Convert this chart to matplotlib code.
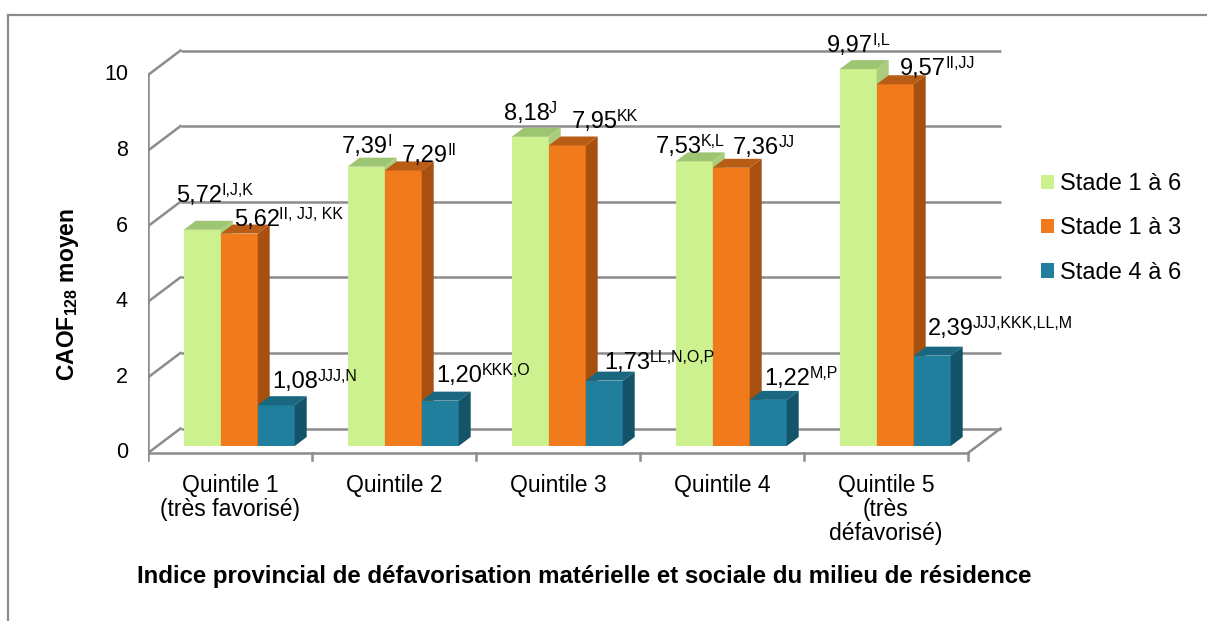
import matplotlib
matplotlib.use("Agg")
import matplotlib.pyplot as plt
from matplotlib.patches import Polygon, Patch

plt.rcParams['font.family'] = ['Liberation Sans', 'DejaVu Sans']
plt.rcParams['mathtext.fontset'] = 'custom'
plt.rcParams['mathtext.rm'] = 'Liberation Sans'
plt.rcParams['mathtext.bf'] = 'Liberation Sans:bold'

# data
quintiles = ['Quintile 1\n(très favorisé)', 'Quintile 2', 'Quintile 3',
             'Quintile 4', 'Quintile 5\n(très\ndéfavorisé)']
series = ['Stade 1 à 6', 'Stade 1 à 3', 'Stade 4 à 6']
stade_1_6 = [5.72, 7.39, 8.18, 7.53, 9.97]
stade_1_3 = [5.62, 7.29, 7.95, 7.36, 9.57]
stade_4_6 = [1.08, 1.20, 1.73, 1.22, 2.39]
sup_1_6 = ['I,J,K', 'I', 'J', 'K,L', 'I,L']
sup_1_3 = ['II, JJ, KK', 'II', 'KK', 'JJ', 'II,JJ']
sup_4_6 = ['JJJ,N', 'KKK,O', 'LL,N,O,P', 'M,P', 'JJJ,KKK,LL,M']
yticks = [0, 2, 4, 6, 8, 10]

# colours: front, top, side
faces = [('#CDF18E', '#9EC572', '#A9CD7A'),
         ('#F07A1C', '#B95D16', '#A8500F'),
         ('#1F7F9C', '#196780', '#145468')]
grid_col = '#8C8C8C'

# label nudges in pixels (x from bar left, y above bar top)
lab_dx = [[-8, -6, -8, -20, -13],
          [13, 17, 23, 20, 23],
          [15, 15, 19, 15, 14]]
lab_dy = [[28, 14, 17, 8, 17],
          [8, 8, 17, 14, 9],
          [17, 19, 12, 15, 21]]

W, H = 1207, 621
fig = plt.figure(figsize=(W / 100, H / 100), dpi=100)
px_cat, px_val = 164.0, 37.8
ax = fig.add_axes([148 / W, (H - 470) / H, 862 / W, 430 / H])
ax.set_xlim(-0.5, -0.5 + 862 / px_cat)
ax.set_ylim(-(470 - 453) / px_val, (453 - 40) / px_val)
ax.axis('off')

# depth of the floor / back wall and of the bars, in data units
depth_x, depth_y = 32.5 / px_cat, 24.5 / px_val
bar_off_x, bar_off_y = 9.2 / px_cat, 7.0 / px_val
bar_dx, bar_dy = 12.0 / px_cat, 9.0 / px_val
bar_w = 37.0 / px_cat
n = len(quintiles)
x0, x1 = -0.5, n - 0.5

# back wall grid and left wall diagonals
for v in yticks:
    ax.plot([x0 + depth_x, x1 + depth_x], [v + depth_y, v + depth_y],
            color=grid_col, lw=1.8, zorder=1, solid_capstyle='butt')
    ax.plot([x0, x0 + depth_x], [v, v + depth_y], color=grid_col, lw=1.8, zorder=1)
# floor
ax.plot([x0, x1], [0, 0], color=grid_col, lw=1.8, zorder=1)
ax.plot([x1, x1 + depth_x], [0, depth_y], color=grid_col, lw=1.8, zorder=1)
# front y axis with ticks
ax.plot([x0, x0], [0, yticks[-1]], color=grid_col, lw=1.8, zorder=1)
tick_len_x = 6 / px_cat
for v in yticks:
    ax.plot([x0 - tick_len_x, x0], [v, v], color=grid_col, lw=1.8, zorder=1)
    ax.annotate(str(v), xy=(x0, v), xytext=(-20, 0), textcoords='offset pixels',
                ha='right', va='center', fontsize=15.5)
# category ticks on the front x axis
for k in range(n + 1):
    ax.plot([x0 + k, x0 + k], [0, -7 / px_val], color=grid_col, lw=1.8, zorder=1)
for i, q in enumerate(quintiles):
    ax.annotate(q, xy=(i, 0), xytext=(0, -21), textcoords='offset pixels',
                ha='center', va='top', fontsize=16.5, linespacing=1.05)

renderer = fig.canvas.get_renderer()
values = [stade_1_6, stade_1_3, stade_4_6]
sups = [sup_1_6, sup_1_3, sup_4_6]
group_w = bar_w * len(values)
for i in range(n):
    for s, vals in enumerate(values):
        v = vals[i]
        left = i - group_w / 2 + bar_off_x + s * bar_w
        front, top, side = faces[s]
        ax.bar(left, v, width=bar_w, bottom=bar_off_y, align='edge',
               color=front, linewidth=0, zorder=3 + s)
        b, t, r = bar_off_y, bar_off_y + v, left + bar_w
        ax.add_patch(Polygon([(left, t), (r, t), (r + bar_dx, t + bar_dy),
                              (left + bar_dx, t + bar_dy)],
                             closed=True, color=top, lw=0, zorder=3 + s))
        ax.add_patch(Polygon([(r, b), (r, t), (r + bar_dx, t + bar_dy),
                              (r + bar_dx, b + bar_dy)],
                             closed=True, color=side, lw=0, zorder=3 + s))
        # value, then its superscript letters right after it
        base = ax.annotate('{:.2f}'.format(v).replace('.', ','), xy=(left, t),
                           xytext=(lab_dx[s][i], lab_dy[s][i]),
                           textcoords='offset pixels', ha='left', va='baseline',
                           fontsize=17, zorder=10, annotation_clip=False)
        wbase = base.get_window_extent(renderer).width
        ax.annotate(sups[s][i], xy=(left, t),
                    xytext=(lab_dx[s][i] + wbase - 0.5, lab_dy[s][i] + 7),
                    textcoords='offset pixels', ha='left', va='baseline',
                    fontsize=11.5, zorder=10, annotation_clip=False)

# legend
handles = [Patch(facecolor=f[0], edgecolor='none') for f in faces]
fig.legend(handles, series, loc='upper left', bbox_to_anchor=(1041 / W, 1 - 173 / H),
           frameon=False, fontsize=17, handlelength=0.55, handleheight=0.55,
           handletextpad=0.25, labelspacing=0.95, borderpad=0, borderaxespad=0)

# axis titles
fig.text(68 / W, 1 - 294 / H, r'CAOF$_{\mathbf{128}}$ moyen', rotation=90,
         ha='center', va='center', fontsize=16.5, fontweight='bold')
fig.text(584 / W, 1 - 577 / H,
         'Indice provincial de défavorisation matérielle et sociale du milieu de résidence',
         ha='center', va='center', fontsize=17.3, fontweight='bold')

# outer frame
fig.add_artist(plt.Line2D([8 / W, 1], [1 - 14.5 / H, 1 - 14.5 / H], color='#8C8C8C', lw=1.6))
fig.add_artist(plt.Line2D([8 / W, 8 / W], [0, 1 - 14.5 / H], color='#8C8C8C', lw=1.6))

fig.savefig('out.png', dpi=100)
